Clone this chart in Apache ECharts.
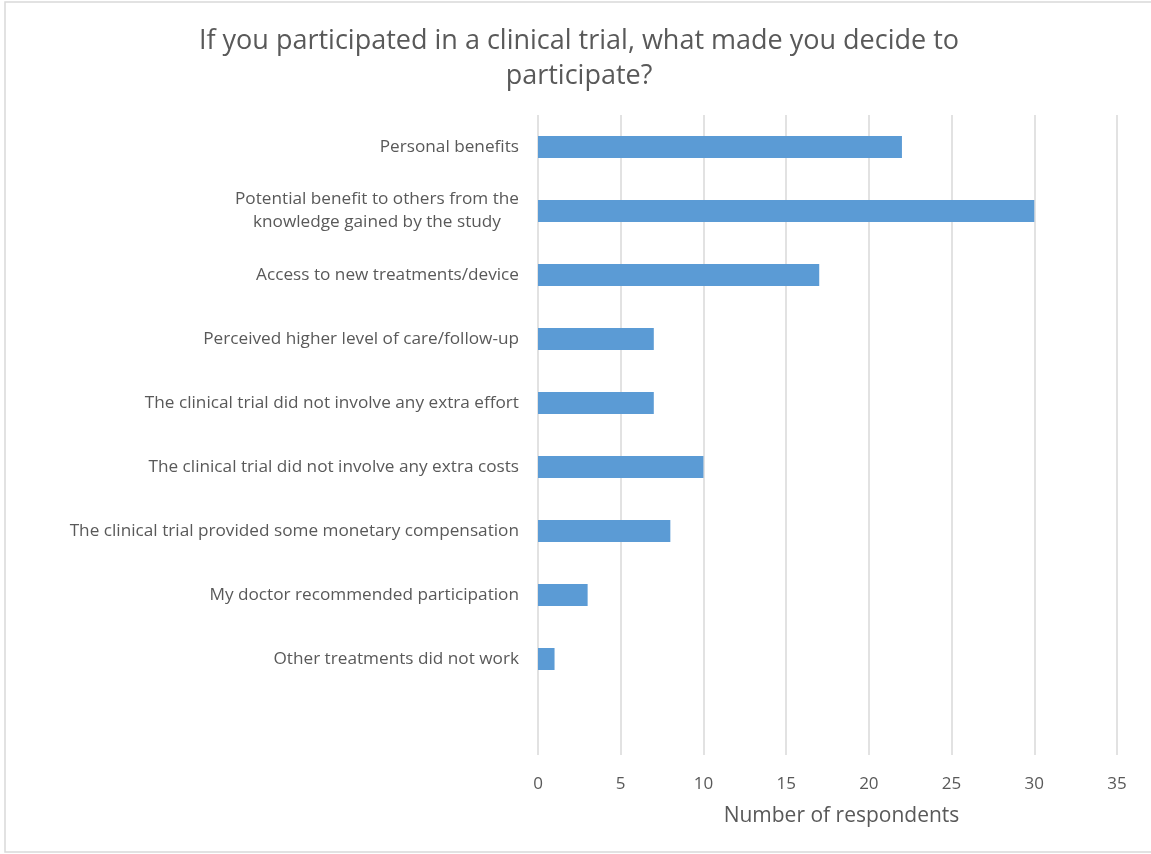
<!DOCTYPE html>
<html>
<head>
<meta charset="utf-8">
<style>
  html, body { margin: 0; padding: 0; background: #fff; }
  #chart { width: 1151px; height: 854px; }
</style>
<script src="https://cdn.jsdelivr.net/npm/echarts@6/dist/echarts.min.js"></script>
</head>
<body>
<div id="chart"></div>
<script>
// Reasons for taking part in a clinical trial (top to bottom); last slot left empty
const categories = [
  'Personal benefits',
  'Potential benefit to others from the\nknowledge gained by the study',
  'Access to new treatments/device',
  'Perceived higher level of care/follow-up',
  'The clinical trial did not involve any extra effort',
  'The clinical trial did not involve any extra costs',
  'The clinical trial provided some monetary compensation',
  'My doctor recommended participation',
  'Other treatments did not work',
  ''
];
const respondents = [22, 30, 17, 7, 7, 10, 8, 3, 1, null];
const xTicks = { min: 0, max: 35, interval: 5 };

const FONT = 'Open Sans';
const TEXT = '#595959';
const LABEL_SIZE = 17.2;

// width of the widest line of a multi-line label, so its lines can be centred
function lineWidth(str, size) {
  const c = document.createElement('canvas').getContext('2d');
  c.font = size + 'px "' + FONT + '"';
  return Math.max.apply(null, str.split('\n').map(s => c.measureText(s).width));
}

const chart = echarts.init(document.getElementById('chart'), null, { renderer: 'canvas' });

chart.setOption({
  backgroundColor: '#fff',
  animation: false,
  title: {
    text: 'If you participated in a clinical trial, what made you decide to\nparticipate?',
    left: 574,
    top: 19,
    textAlign: 'center',
    textStyle: { fontFamily: FONT, fontSize: 27, fontWeight: 'normal', color: TEXT, lineHeight: 35 }
  },
  graphic: [{
    type: 'rect',
    shape: { x: 5, y: 2, width: 1160, height: 850 },
    style: { fill: 'none', stroke: '#d9d9d9', lineWidth: 1.5 },
    silent: true
  }],
  grid: { left: 538, right: 34, top: 115, bottom: 99, containLabel: false },
  xAxis: {
    type: 'value',
    min: xTicks.min, max: xTicks.max, interval: xTicks.interval,
    name: 'Number of respondents',
    nameLocation: 'middle',
    nameGap: 51,
    nameTextStyle: { fontFamily: FONT, fontSize: 21, color: TEXT, padding: [0, 0, 0, 28] },
    axisLine: { show: false },
    axisTick: { show: false },
    axisLabel: { fontFamily: FONT, fontSize: 17, color: TEXT, margin: 21 },
    splitLine: { show: true, lineStyle: { color: '#d9d9d9', width: 1.5 } }
  },
  yAxis: {
    type: 'category',
    data: categories,
    inverse: true,
    axisLine: { show: false },
    axisTick: { show: false },
    axisLabel: {
      fontFamily: FONT, fontSize: LABEL_SIZE, color: TEXT, margin: 19, lineHeight: 23,
      formatter: function (v) {
        if (v.indexOf('\n') < 0) return v;
        return v.split('\n').map(s => '{c|' + s + '}').join('\n');
      },
      rich: {
        c: { width: lineWidth(categories[1], LABEL_SIZE), align: 'center',
             fontFamily: FONT, fontSize: LABEL_SIZE, color: TEXT, lineHeight: 23 }
      }
    },
    splitLine: { show: false }
  },
  series: [{
    type: 'bar',
    data: respondents,
    barWidth: 22,
    itemStyle: { color: '#5b9bd5' }
  }]
});
</script>
</body>
</html>
